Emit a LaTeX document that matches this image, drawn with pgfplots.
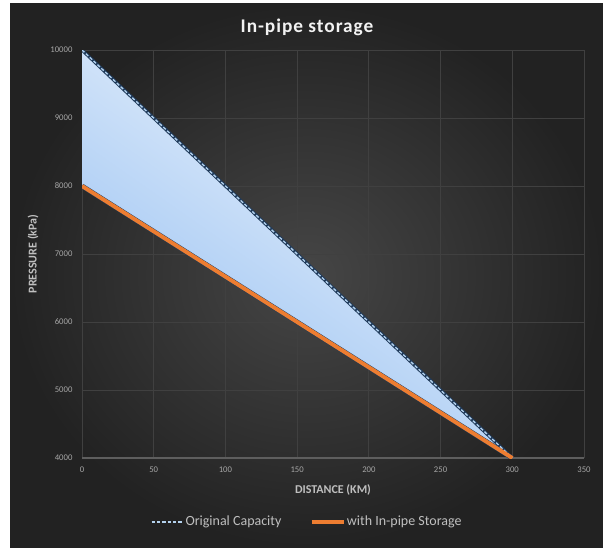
\documentclass[border=0pt]{standalone}
\usepackage{pgfplots}
\pgfplotsset{compat=1.18}
\usepackage{fontspec}
\setmainfont{Carlito}
\definecolor{bgdark}{HTML}{222222}
\definecolor{bgmid}{HTML}{464646}
\definecolor{gridc}{HTML}{404040}
\definecolor{axc}{HTML}{5E5E5E}
\definecolor{tickc}{HTML}{A6A6A6}
\definecolor{labc}{HTML}{BFBFBF}
\definecolor{titlec}{HTML}{F2F2F2}
\definecolor{orangec}{HTML}{ED7D31}
\definecolor{dashc}{HTML}{B4D2EE}
\definecolor{dashdark}{HTML}{1F3A5A}
\definecolor{filltop}{HTML}{F7FAFE}
\definecolor{fillblue}{HTML}{93BEF1}
\definecolor{fillmid}{HTML}{E8F1FC}
\begin{document}
\begin{tikzpicture}
\begin{scope}[x=0.75pt,y=0.75pt]
\useasboundingbox (0,0) rectangle (603,547);
\fill[white] (0,0) rectangle (603,547);
\shade[inner color=bgmid, outer color=bgdark] (10,0) rectangle (603,543);
\node[text=titlec, font=\fontsize{14.5}{16}\selectfont\bfseries\addfontfeature{LetterSpace=5}] at (307,520) {In-pipe storage};
\node[text=labc, font=\fontsize{9}{10}\selectfont\bfseries, rotate=90] at (33,293) {PRESSURE (kPa)};
\end{scope}
\begin{axis}[
  at={(61.5pt,66.75pt)}, anchor=south west,
  scale only axis, width=376.5pt, height=306pt,
  xmin=0, xmax=350, ymin=4000, ymax=10000,
  xtick={0,50,...,350}, ytick={4000,5000,...,10000},
  scaled y ticks=false, scaled x ticks=false,
  grid=major, major grid style={gridc, line width=0.6pt},
  axis x line*=bottom, axis y line*=left,
  x axis line style={axc, line width=0.8pt, -},
  y axis line style={draw=none},
  tick style={draw=none},
  /pgf/number format/1000 sep={},
  /pgf/number format/assume math mode=true,
  tick label style={text=tickc, font=\fontsize{6.5}{7}\selectfont, inner sep=0pt},
  xticklabel style={anchor=center, yshift=-9pt},
  yticklabel style={anchor=east, xshift=-7pt},
  xlabel={DISTANCE (KM)},
  xlabel style={at={(rel axis cs:0.5,0)}, anchor=center, yshift=-24pt, text=labc, font=\fontsize{9}{10}\selectfont\bfseries},
  legend image code/.code={\draw[#1] (0pt,0pt) -- (24pt,0pt);},
  legend style={at={(rel axis cs:0.448,-0.157)}, anchor=center, draw=none, fill=none,
    legend columns=2, text=labc, font=\fontsize{10.5}{12}\selectfont,
    nodes={inner sep=1pt},
    /tikz/every even column/.append style={column sep=20pt}},
]
\addplot[draw=none, top color=filltop, middle color=fillmid, bottom color=fillblue, shading angle=-35, forget plot] coordinates {(0,10000) (300,4000) (0,8000)} -- cycle;
\addplot[draw=dashdark, line width=2.4pt, forget plot] coordinates {(0,10000) (300,4000)};
\addplot[draw=dashdark, line width=3.6pt, forget plot] coordinates {(0,8000) (300,4000)};
\addplot[draw=dashc, line width=1pt, dash pattern=on 2.5pt off 1.5pt] coordinates {(0,10000) (300,4000)};
\addlegendentry{Original Capacity}
\addplot[draw=orangec, line width=3pt] coordinates {(0,8000) (300,4000)};
\addlegendentry{with In-pipe Storage}
\end{axis}
\end{tikzpicture}
\end{document}
